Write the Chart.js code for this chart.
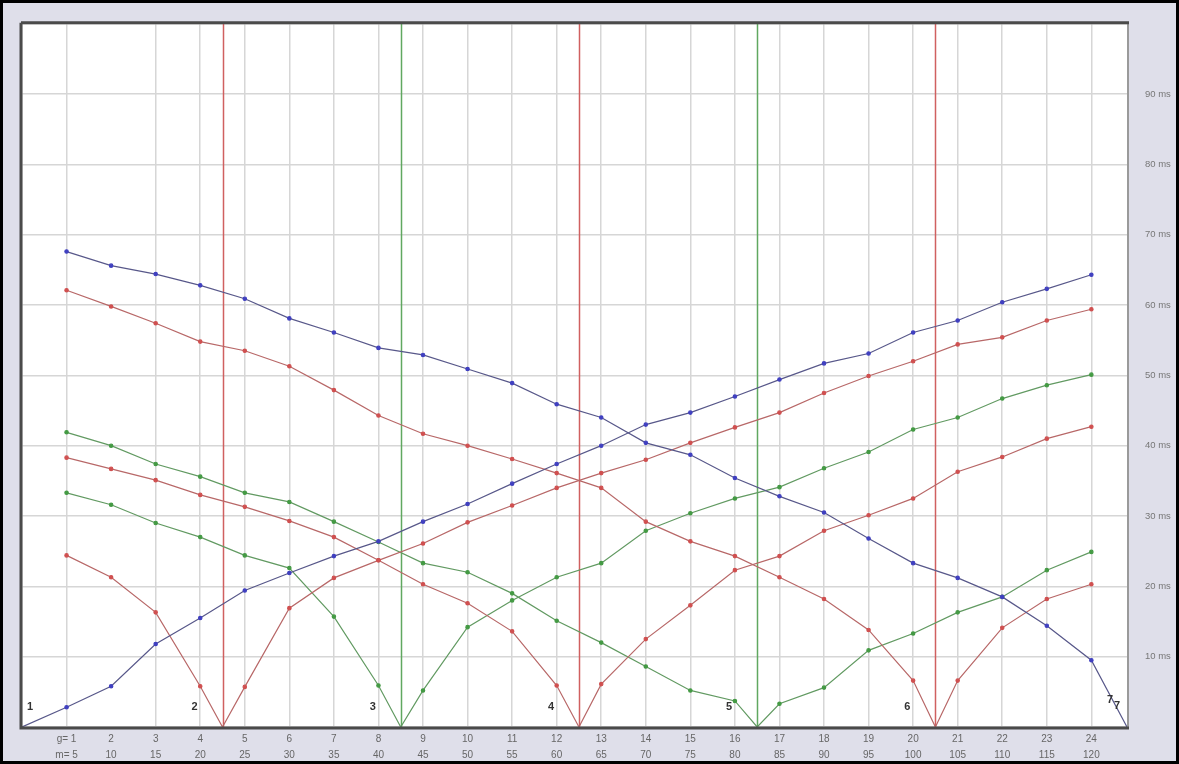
<!DOCTYPE html>
<html>
<head>
<meta charset="utf-8">
<script src="https://cdn.jsdelivr.net/npm/chart.js@4/dist/chart.umd.min.js"></script>
<style>
  html, body { margin: 0; padding: 0; background: #dfdfea; }
  #wrap { width: 1179px; height: 764px; }
</style>
</head>
<body>
<div id="wrap"><canvas id="c" width="1179" height="764"></canvas></div>
<script>
// step number g and the matching m value
const gLabels = [1, 2, 3, 4, 5, 6, 7, 8, 9, 10, 11, 12, 13, 14, 15, 16, 17, 18, 19, 20, 21, 22, 23, 24];
const mLabels = [5, 10, 15, 20, 25, 30, 35, 40, 45, 50, 55, 60, 65, 70, 75, 80, 85, 90, 95, 100, 105, 110, 115, 120];
// right-hand time axis, ms
const yTicks = [10, 20, 30, 40, 50, 60, 70, 80, 90];
// section boundaries 1..7 on the g axis
const boundaries = [0, 4.5, 8.5, 12.5, 16.5, 20.5, 24.8];
const boundaryNames = ['1', '2', '3', '4', '5', '6', '7'];
const redBoundaries = [4.5, 12.5, 20.5];
const greenBoundaries = [8.5, 16.5];

// series values per g (ms); each touches zero at one boundary
const blueFalling = [67.6, 65.6, 64.4, 62.8, 60.9, 58.1, 56.1, 53.9, 52.9, 50.9, 48.9, 45.9, 44.0, 40.4, 38.7, 35.4, 32.8, 30.5, 26.8, 23.3, 21.2, 18.5, 14.4, 9.5];
const blueRising  = [2.8, 5.8, 11.8, 15.5, 19.4, 21.9, 24.3, 26.4, 29.2, 31.7, 34.6, 37.4, 40.0, 43.0, 44.7, 47.0, 49.4, 51.7, 53.1, 56.1, 57.8, 60.4, 62.3, 64.3];
const redA   = [62.1, 59.8, 57.4, 54.8, 53.5, 51.3, 47.9, 44.3, 41.7, 40.0, 38.1, 36.1, 34.0, 29.2, 26.4, 24.3, 21.3, 18.2, 13.8, 6.6, 6.6, 14.1, 18.2, 20.3];
const redC   = [38.3, 36.7, 35.1, 33.0, 31.3, 29.3, 27.0, 23.7, 20.3, 17.6, 13.6, 5.9, 6.1, 12.5, 17.3, 22.3, 24.3, 27.9, 30.1, 32.5, 36.3, 38.4, 41.0, 42.7];
const redE   = [24.4, 21.3, 16.3, 5.8, 5.7, 16.9, 21.2, 23.7, 26.1, 29.1, 31.5, 34.0, 36.1, 38.0, 40.4, 42.6, 44.7, 47.5, 49.9, 52.0, 54.4, 55.4, 57.8, 59.4];
const greenA = [41.9, 40.0, 37.4, 35.6, 33.3, 32.0, 29.2, 26.3, 23.3, 22.0, 19.0, 15.1, 12.0, 8.6, 5.2, 3.7, 3.3, 5.6, 10.9, 13.3, 16.3, 18.5, 22.3, 24.9];
const greenC = [33.3, 31.6, 29.0, 27.0, 24.4, 22.6, 15.7, 5.9, 5.2, 14.2, 18.0, 21.3, 23.3, 27.9, 30.4, 32.5, 34.1, 36.8, 39.1, 42.3, 44.0, 46.7, 48.6, 50.1];

// zero point where a series reaches a boundary
function withVertex(values, vx) {
  const pts = values.map((v, i) => ({ x: gLabels[i], y: v }));
  pts.push({ x: vx, y: 0, vertex: true });
  pts.sort((a, b) => a.x - b.x);
  return pts;
}

const BLUE_LINE = '#58588a', BLUE_PT = '#4040c0';
const RED_LINE = '#b86868', RED_PT = '#d05050';
const GREEN_LINE = '#629a62', GREEN_PT = '#449a44';

function series(values, vx, line, pt) {
  return {
    data: withVertex(values, vx),
    borderColor: line,
    backgroundColor: pt,
    pointBackgroundColor: pt,
    pointBorderColor: pt,
    borderWidth: 1.2,
    pointRadius: c => (c.raw && c.raw.vertex) ? 0 : 1.7,
    pointHoverRadius: 0,
    tension: 0
  };
}

const bgPlugin = {
  id: 'frameAndMarks',
  beforeDraw(chart) {
    const { ctx, chartArea: a } = chart;
    ctx.save();
    ctx.fillStyle = '#dfdfea';
    ctx.fillRect(0, 0, chart.width, chart.height);
    ctx.fillStyle = '#ffffff';
    ctx.fillRect(a.left, a.top, a.right - a.left, a.bottom - a.top);
    ctx.restore();
  },
  beforeDatasetsDraw(chart) {
    const { ctx, chartArea: a, scales: { x } } = chart;
    ctx.save();
    ctx.lineWidth = 1.5;
    const draw = (v, col) => {
      const px = Math.round(x.getPixelForValue(v)) + 0.5;
      ctx.strokeStyle = col;
      ctx.beginPath();
      ctx.moveTo(px, a.top);
      ctx.lineTo(px, a.bottom);
      ctx.stroke();
    };
    redBoundaries.forEach(v => draw(v, '#d06060'));
    greenBoundaries.forEach(v => draw(v, '#60a860'));
    ctx.restore();
  },
  afterDraw(chart) {
    const { ctx, chartArea: a, scales: { x, y } } = chart;
    ctx.save();
    // plot frame
    ctx.strokeStyle = '#9a9a9a';
    ctx.lineWidth = 2;
    ctx.beginPath();
    ctx.moveTo(a.right + 1, a.top);
    ctx.lineTo(a.right + 1, a.bottom);
    ctx.stroke();
    ctx.strokeStyle = '#4a4a4a';
    ctx.lineWidth = 3;
    ctx.beginPath();
    ctx.moveTo(a.left - 1, a.top - 1);
    ctx.lineTo(a.right + 2, a.top - 1);
    ctx.moveTo(a.left - 1, a.top - 1);
    ctx.lineTo(a.left - 1, a.bottom + 1);
    ctx.lineTo(a.right + 2, a.bottom + 1);
    ctx.stroke();
    // section numbers
    ctx.fillStyle = '#333333';
    ctx.font = 'bold 11px "Liberation Sans", Arial, sans-serif';
    ctx.textAlign = 'center';
    ctx.textBaseline = 'middle';
    const yb = y.getPixelForValue(0) - 20;
    boundaries.forEach((b, i) => {
      const px = x.getPixelForValue(b);
      if (i === 0) {
        ctx.fillText(boundaryNames[i], px + 8, yb);
      } else if (i === boundaries.length - 1) {
        ctx.fillText(boundaryNames[i], px - 17, yb - 7);
        ctx.fillText(boundaryNames[i], px - 10, yb - 1);
      } else {
        ctx.fillText(boundaryNames[i], px - 28, yb);
      }
    });
    // outer frame
    ctx.strokeStyle = '#000000';
    ctx.lineWidth = 3;
    ctx.strokeRect(1.5, 1.5, chart.width - 3, chart.height - 3);
    ctx.restore();
  }
};

new Chart(document.getElementById('c'), {
  type: 'line',
  data: {
    datasets: [
      series(blueFalling, boundaries[6], BLUE_LINE, BLUE_PT),
      series(blueRising, boundaries[0], BLUE_LINE, BLUE_PT),
      series(redA, boundaries[5], RED_LINE, RED_PT),
      series(redC, boundaries[3], RED_LINE, RED_PT),
      series(redE, boundaries[1], RED_LINE, RED_PT),
      series(greenA, boundaries[4], GREEN_LINE, GREEN_PT),
      series(greenC, boundaries[2], GREEN_LINE, GREEN_PT)
    ]
  },
  options: {
    responsive: false,
    devicePixelRatio: 1,
    animation: false,
    layout: { padding: { top: 21, left: 22, right: 0, bottom: 0 } },
    plugins: { legend: { display: false }, tooltip: { enabled: false } },
    scales: {
      x: {
        type: 'linear',
        min: 0,
        max: boundaries[6],
        afterFit: s => { s.height = 37; },
        border: { display: false },
        grid: {
          drawTicks: false,
          lineWidth: 1.5,
          color: c => (c.tick && c.tick.value === 2) ? 'rgba(0,0,0,0)' : '#d6d6d6'
        },
        ticks: {
          stepSize: 1,
          autoSkip: false,
          includeBounds: false,
          maxRotation: 0,
          padding: 4,
          color: '#666666',
          font: { family: '"Liberation Sans", Arial, sans-serif', size: 10, lineHeight: 1.6 },
          callback: v => {
            const i = gLabels.indexOf(v);
            if (i < 0) return '';
            return i === 0 ? ['g= ' + gLabels[0], 'm= ' + mLabels[0]] : [String(gLabels[i]), String(mLabels[i])];
          }
        }
      },
      y: {
        position: 'right',
        min: 0,
        max: 100,
        afterFit: s => { s.width = 52; },
        border: { display: false },
        grid: { drawTicks: false, lineWidth: 1.5, color: '#d6d6d6' },
        ticks: {
          stepSize: 10,
          padding: 18,
          color: '#777777',
          font: { family: '"Liberation Sans", Arial, sans-serif', size: 9.5 },
          callback: v => yTicks.includes(v) ? v + ' ms' : ''
        }
      }
    }
  },
  plugins: [bgPlugin]
});
</script>
</body>
</html>
